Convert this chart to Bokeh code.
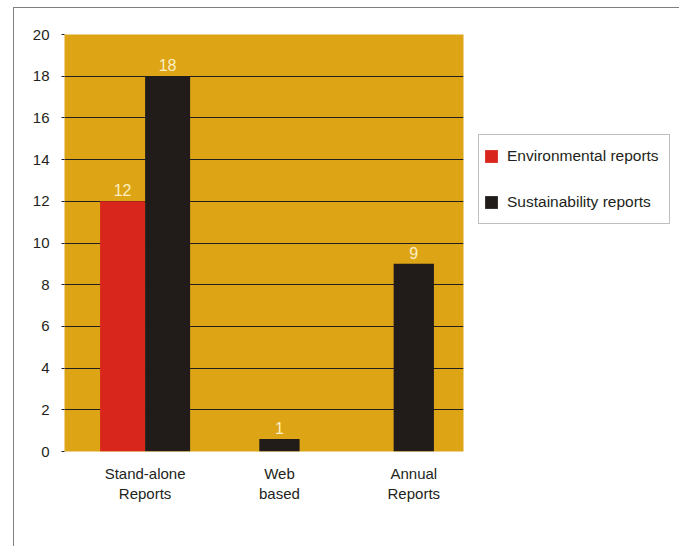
from bokeh.plotting import figure
from bokeh.models import ColumnDataSource, Range1d, FixedTicker, Legend, LegendItem
from bokeh.core.properties import value
from bokeh.embed import file_html
from bokeh.resources import INLINE

# ---- data ----
categories = ["Stand-alone\nReports", "Web\nbased", "Annual\nReports"]
environmental = [12, 0, 0]
sustainability = [18, 0.6, 9]
env_labels = ["12", "", ""]
sus_labels = ["18", "1", "9"]
y_ticks = [0, 2, 4, 6, 8, 10, 12, 14, 16, 18, 20]
series_names = ["Environmental reports", "Sustainability reports"]

GOLD = "#dda415"
RED = "#d9261c"
BLACK = "#211c1a"
TXT = "#231f20"
LBL = "#fcefc4"
FONT = "Liberation Sans"

pair_w = 0.335
single_w = 0.3

env_x, env_top, env_txt = [], [], []
sus_x, sus_top, sus_txt, sus_w = [], [], [], []
for i, (e, s) in enumerate(zip(environmental, sustainability)):
    if e > 0 and s > 0:
        env_x.append(i - pair_w / 2); env_top.append(e); env_txt.append(env_labels[i])
        sus_x.append(i + pair_w / 2); sus_top.append(s); sus_txt.append(sus_labels[i]); sus_w.append(pair_w)
    elif s > 0:
        sus_x.append(i); sus_top.append(s); sus_txt.append(sus_labels[i]); sus_w.append(single_w)
    elif e > 0:
        env_x.append(i); env_top.append(e); env_txt.append(env_labels[i])

env_src = ColumnDataSource(dict(x=env_x, top=env_top, txt=env_txt))
sus_src = ColumnDataSource(dict(x=sus_x, top=sus_top, txt=sus_txt, w=sus_w))

p = figure(frame_width=399, frame_height=417,
           x_range=Range1d(-0.6, 2.37), y_range=Range1d(0, 20),
           output_backend="svg", toolbar_location=None,
           min_border_left=50, min_border_right=0, min_border_top=26, min_border_bottom=95)
p.styles = {"border-top": "1px solid #7f7f7f", "border-left": "1px solid #7f7f7f",
            "border-right": "1px solid #7f7f7f"}
p.margin = (7, 0, 0, 13)

p.background_fill_color = GOLD
p.border_fill_color = "white"
p.outline_line_color = None

p.xgrid.grid_line_color = None
p.ygrid.ticker = FixedTicker(ticks=y_ticks)
p.ygrid.grid_line_color = TXT
p.ygrid.grid_line_width = 1

r_env = p.vbar(x="x", top="top", width=pair_w, bottom=0, source=env_src,
               fill_color=RED, line_color=None)
r_sus = p.vbar(x="x", top="top", width="w", bottom=0, source=sus_src,
               fill_color=BLACK, line_color=None)

for src in (env_src, sus_src):
    p.text(x="x", y="top", text="txt", source=src, text_align="center",
           text_baseline="bottom", y_offset=-5, text_color=LBL,
           text_font=value(FONT), text_font_size="16px")

p.yaxis.ticker = FixedTicker(ticks=y_ticks)
p.yaxis.axis_line_color = None
p.yaxis.major_tick_out = 3
p.yaxis.major_tick_in = 0
p.yaxis.major_tick_line_color = TXT
p.yaxis.minor_tick_line_color = None
p.yaxis.major_label_standoff = 12
p.yaxis.major_label_text_font = FONT
p.yaxis.major_label_text_font_size = "15px"
p.yaxis.major_label_text_color = TXT

p.xaxis.ticker = FixedTicker(ticks=list(range(len(categories))))
p.xaxis.major_label_overrides = {i: c for i, c in enumerate(categories)}
p.xaxis.axis_line_color = None
p.xaxis.major_tick_line_color = None
p.xaxis.minor_tick_line_color = None
p.xaxis.major_label_standoff = 7
p.xaxis.major_label_text_font = FONT
p.xaxis.major_label_text_font_size = "15px"
p.xaxis.major_label_text_color = TXT

legend = Legend(items=[LegendItem(label=series_names[0], renderers=[r_env]),
                       LegendItem(label=series_names[1], renderers=[r_sus])],
                location=(15, 227))
legend.border_line_color = "#7f7f7f"
legend.border_line_width = 1.5
legend.background_fill_color = "white"
legend.background_fill_alpha = 1
legend.padding = 4
legend.spacing = 12
legend.margin = 0
legend.glyph_height = 16
legend.glyph_width = 16
legend.label_height = 34
legend.label_width = 158
legend.label_standoff = 8
legend.label_text_font = FONT
legend.label_text_font_size = "15.5px"
legend.label_text_color = TXT
p.add_layout(legend, "right")

open("out.html", "w").write(file_html(p, INLINE))
